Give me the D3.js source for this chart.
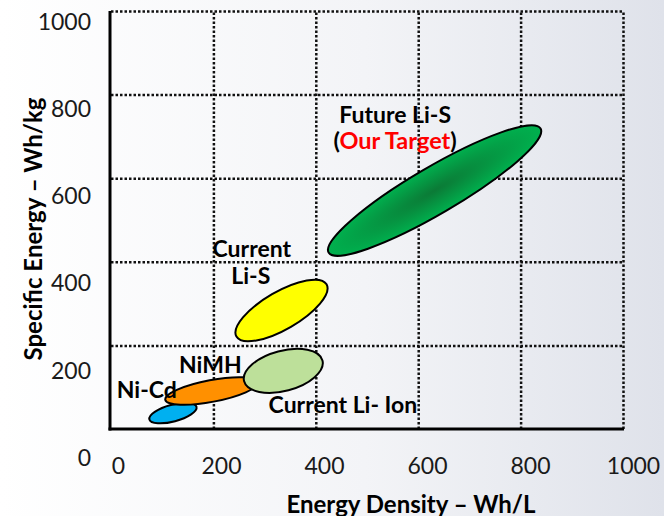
<!DOCTYPE html>
<html>
<head>
<meta charset="utf-8">
<script src="https://cdnjs.cloudflare.com/ajax/libs/d3/7.8.5/d3.min.js"></script>
<style>
  body { margin: 0; background: #fff; }
  svg { display: block; font-family: Lato, "Open Sans", sans-serif; }
</style>
</head>
<body>
<svg id="chart" width="664" height="516"></svg>
<script>
// battery families, drawn bottom to top
const cells = ["Ni-Cd", "NiMH", "Current Li- Ion", "Current Li-S", "Future Li-S"];
// ends of each ellipse's long axis (Wh/L, Wh/kg)
const densityLo = [75, 106, 260, 245, 425];
const densityHi = [167, 287, 413, 421, 839];
const energyLo = [23, 70, 114, 221, 422];
const energyHi = [53, 112, 164, 346, 719];
// half thickness of each ellipse, in Wh/kg
const energySpread = [20, 26, 48, 45, 56];
const cellColors = ["#00b0f0", "#ff9000", "#bde09a", "#ffff00", "url(#futureFill)"];

const tickValues = [0, 200, 400, 600, 800, 1000];

// label anchors (Wh/L, Wh/kg)
const labels = [
  { text: "Future Li-S", x: 555, y: 733 },
  { text: "Current", x: 275, y: 412 },
  { text: "Li-S", x: 273, y: 348 },
  { text: "NiMH", x: 194, y: 134 },
  { text: "Ni-Cd", x: 70, y: 74 },
  { text: "Current Li- Ion", x: 453, y: 38 }
];
const target = { x: 555, y: 671 };

const svg = d3.select("#chart");
const W = +svg.attr("width");
const H = +svg.attr("height");

// background wash
const defs = svg.append("defs");
const bg = defs.append("linearGradient").attr("id", "bgFill")
  .attr("x1", "0").attr("x2", "1").attr("y1", "0").attr("y2", "0");
bg.append("stop").attr("offset", "0%").attr("stop-color", "#ffffff");
bg.append("stop").attr("offset", "55%").attr("stop-color", "#f3f4f7");
bg.append("stop").attr("offset", "100%").attr("stop-color", "#dfe2ea");

const rg = defs.append("radialGradient").attr("id", "futureFill");
rg.append("stop").attr("offset", "0%").attr("stop-color", "#0b7a36");
rg.append("stop").attr("offset", "100%").attr("stop-color", "#00b04e");

svg.append("rect").attr("width", W).attr("height", H).attr("fill", "url(#bgFill)");

// scales
const x = d3.scaleLinear().domain([0, 1000]).range([111, 623]);
const y = d3.scaleLinear().domain([0, 1000]).range([429, 11]);
// tick labels sit a little off the grid in the original
const xLab = d3.scaleLinear().domain([0, 1000]).range([118, 633]);
const yLab = d3.scaleLinear().domain([0, 1000]).range([458, 22]);

// dotted grid
const grid = svg.append("g").attr("class", "grid");
grid.append("g")
  .attr("transform", `translate(${x(0)},0)`)
  .call(d3.axisLeft(y).tickValues(tickValues.slice(1)).tickSize(-(x(1000) - x(0))).tickFormat(""))
  .call(g => g.select(".domain").remove());
grid.append("g")
  .attr("transform", `translate(0,${y(0)})`)
  .call(d3.axisBottom(x).tickValues(tickValues.slice(1)).tickSize(-(y(0) - y(1000))).tickFormat(""))
  .call(g => g.select(".domain").remove());
grid.selectAll("line")
  .attr("stroke", "#111")
  .attr("stroke-width", 2.5)
  .attr("stroke-dasharray", "2.5,2");

// solid axes
svg.append("line")
  .attr("x1", x(0) - 1).attr("x2", x(0) - 1)
  .attr("y1", y(1000)).attr("y2", y(0) + 1.5)
  .attr("stroke", "#000").attr("stroke-width", 3);
svg.append("line")
  .attr("x1", x(0) - 2.5).attr("x2", x(1000) + 1)
  .attr("y1", y(0)).attr("y2", y(0))
  .attr("stroke", "#000").attr("stroke-width", 3);

// tick labels
svg.append("g")
  .attr("transform", "translate(0,466)")
  .call(d3.axisBottom(xLab).tickValues(tickValues).tickSize(0).tickPadding(0).tickFormat(d3.format("d")))
  .call(g => g.select(".domain").remove())
  .selectAll("text")
  .attr("dy", "0.35em")
  .style("font-family", "Lato, sans-serif")
  .style("font-size", "23px")
  .attr("fill", "#1a1a1a");

svg.append("g")
  .attr("transform", "translate(91,0)")
  .call(d3.axisLeft(yLab).tickValues(tickValues).tickSize(0).tickPadding(0).tickFormat(d3.format("d")))
  .call(g => g.select(".domain").remove())
  .selectAll("text")
  .style("font-family", "Lato, sans-serif")
  .style("font-size", "23px")
  .attr("fill", "#1a1a1a");

// ellipses
const shapes = cells.map((name, i) => {
  const x1 = x(densityLo[i]), y1 = y(energyLo[i]);
  const x2 = x(densityHi[i]), y2 = y(energyHi[i]);
  return {
    name,
    cx: (x1 + x2) / 2,
    cy: (y1 + y2) / 2,
    rx: Math.hypot(x2 - x1, y2 - y1) / 2,
    ry: y(0) - y(energySpread[i]),
    angle: Math.atan2(y2 - y1, x2 - x1) * 180 / Math.PI,
    fill: cellColors[i]
  };
});

svg.append("g")
  .selectAll("ellipse")
  .data(shapes)
  .join("ellipse")
  .attr("cx", d => d.cx)
  .attr("cy", d => d.cy)
  .attr("rx", d => d.rx)
  .attr("ry", d => d.ry)
  .attr("transform", d => `rotate(${d.angle},${d.cx},${d.cy})`)
  .attr("fill", d => d.fill)
  .attr("stroke", "#000")
  .attr("stroke-width", 2);

// labels
svg.append("g")
  .selectAll("text")
  .data(labels)
  .join("text")
  .attr("x", d => x(d.x))
  .attr("y", d => y(d.y))
  .attr("text-anchor", "middle")
  .style("font-size", "23px")
  .style("font-weight", "bold")
  .attr("fill", "#000")
  .text(d => d.text);

const t = svg.append("text")
  .attr("x", x(target.x))
  .attr("y", y(target.y))
  .attr("text-anchor", "middle")
  .style("font-size", "23.5px")
  .style("font-weight", "bold")
  .attr("fill", "#000");
t.append("tspan").text("(");
t.append("tspan").attr("fill", "#ff0000").text("Our Target");
t.append("tspan").text(")");

// axis titles
svg.append("text")
  .attr("transform", "translate(32,229) rotate(-90)")
  .attr("text-anchor", "middle")
  .attr("dominant-baseline", "central")
  .style("font-size", "24px")
  .style("font-weight", "bold")
  .text("Specific Energy – Wh/kg");

svg.append("text")
  .attr("x", 411)
  .attr("y", 503)
  .attr("text-anchor", "middle")
  .attr("dominant-baseline", "central")
  .style("font-size", "24px")
  .style("font-weight", "bold")
  .text("Energy Density – Wh/L");
</script>
</body>
</html>
